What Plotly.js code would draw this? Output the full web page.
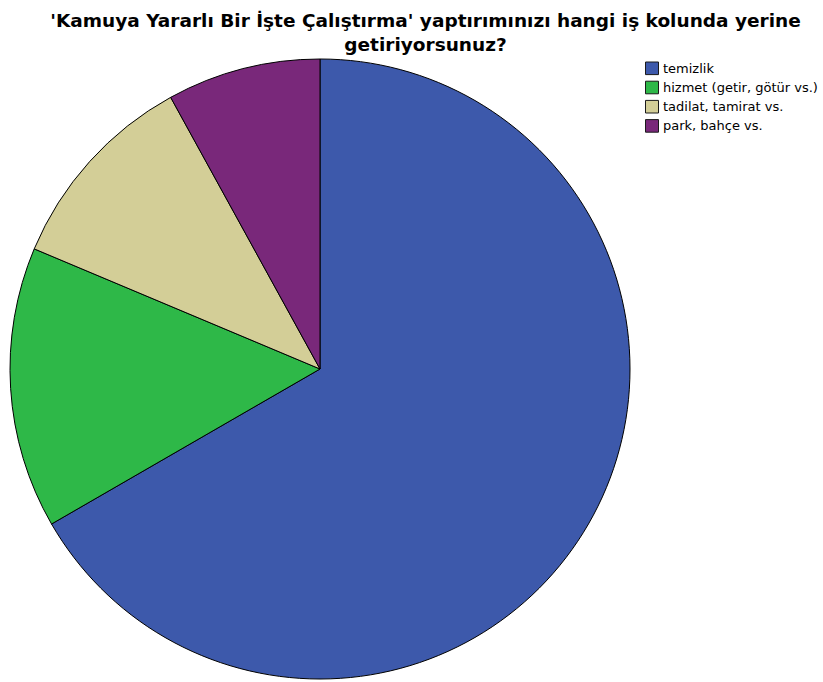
<!DOCTYPE html>
<html><head><meta charset="utf-8">
<script src="https://cdn.plot.ly/plotly-3.0.1.min.js"></script>
<style>html,body{margin:0;padding:0;background:#fff}#chart{width:823px;height:682px}</style>
</head><body><div id="chart"></div>
<script>
const categories = ["temizlik", "hizmet (getir, götür vs.)", "tadilat, tamirat vs.", "park, bahçe vs."];
const counts = [50, 11, 8, 6];
const colors = ["#3D59AB", "#2EB848", "#D3CE97", "#79287A"];
const titleText = "'Kamuya Yararlı Bir İşte Çalıştırma' yaptırımınızı hangi iş kolunda yerine<br>getiriyorsunuz?";

const W = 823, H = 682;

// legend (drawn as shapes + text so the symbol/text gap matches the reference)
const legX0 = 645.5, legX1 = 658.5, legTextX = 660.5, legY0 = 68.3, legStep = 19.2, legHalf = 6.3;
const shapes = [], annotations = [];
categories.forEach((c, i) => {
  const cy = legY0 + i * legStep;
  shapes.push({type: "rect", xref: "paper", yref: "paper",
    x0: legX0 / W, x1: legX1 / W, y0: 1 - (cy + legHalf) / H, y1: 1 - (cy - legHalf) / H,
    fillcolor: colors[i], line: {color: "#1a1a1a", width: 1}});
  annotations.push({xref: "paper", yref: "paper", x: legTextX / W, y: 1 - cy / H,
    xanchor: "left", yanchor: "middle", showarrow: false, text: c,
    font: {family: "DejaVu Sans, sans-serif", size: 13, color: "#000"}});
});

Plotly.newPlot("chart", [{
  type: "pie",
  labels: categories,
  values: counts,
  sort: false,
  direction: "clockwise",
  rotation: 0,
  textinfo: "none",
  hoverinfo: "label+value+percent",
  marker: {colors: colors, line: {color: "#000000", width: 1}},
  domain: {x: [10 / W, 630 / W], y: [1 - 679 / H, 1 - 59 / H]}
}], {
  width: W, height: H,
  margin: {l: 0, r: 0, t: 0, b: 0},
  paper_bgcolor: "#ffffff",
  title: {text: titleText, x: 425.5 / W, xanchor: "center", y: 1 - 27 / H, yanchor: "top",
          font: {family: "DejaVu Sans, sans-serif", size: 18.5, color: "#000", weight: "bold"}},
  showlegend: false,
  shapes: shapes,
  annotations: annotations
}, {displayModeBar: false, staticPlot: true});
</script></body></html>
